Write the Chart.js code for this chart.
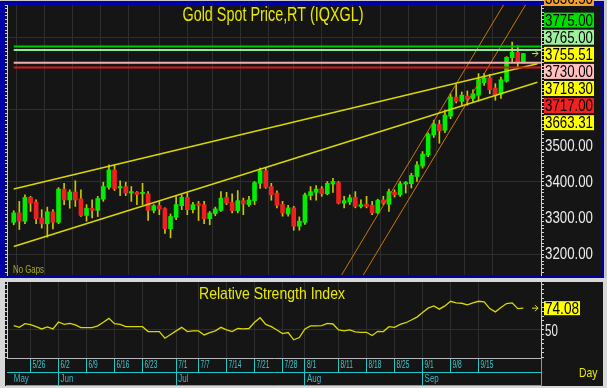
<!DOCTYPE html>
<html>
<head>
<meta charset="utf-8">
<script src="https://cdn.jsdelivr.net/npm/chart.js@4/dist/chart.umd.min.js"></script>
<style>
html, body { margin: 0; padding: 0; background: #c9c9c9; }
#wrap { position: relative; width: 607px; height: 388px; overflow: hidden; }
#price { position: absolute; left: 0; top: 0; }
#rsi { position: absolute; left: 0; top: 278px; }
</style>
</head>
<body>
<div id="wrap">
  <canvas id="price" width="607" height="278"></canvas>
  <canvas id="rsi" width="607" height="110"></canvas>
</div>
<script>
// trading days shown on the chart
var dates = ['5/21','5/22','5/23','5/26','5/27','5/28','5/29','5/30',
  '6/2','6/3','6/4','6/5','6/6','6/9','6/10','6/11','6/12','6/13','6/16','6/17','6/18','6/19','6/20',
  '6/23','6/24','6/25','6/26','6/27','6/30',
  '7/1','7/2','7/3','7/4','7/7','7/8','7/9','7/10','7/11','7/14','7/15','7/16','7/17','7/18',
  '7/21','7/22','7/23','7/24','7/25','7/28','7/29','7/30','7/31',
  '8/1','8/4','8/5','8/6','8/7','8/8','8/11','8/12','8/13','8/14','8/15','8/18','8/19','8/20','8/21','8/22',
  '8/25','8/26','8/27','8/28','8/29',
  '9/1','9/2','9/3','9/4','9/5','9/8','9/9','9/10','9/11','9/12','9/15','9/16','9/17','9/18','9/19',
  '9/22','9/23','9/24','9/25'];

var open = [3288,3314,3291,3357,3344,3300,3284,3317,3288,3380,
  3350,3372,3353,3307,3327,3321,3352,3385,3433,3383,
  3387,3369,3371,3367,3367,3321,3334,3326,3270,3302,
  3334,3357,3323,3337,3337,3298,3312,3321,3357,3343,
  3320,3348,3337,3348,3396,3431,3387,3369,3337,3311,
  3328,3277,3288,3362,3371,3381,3367,3394,3398,3341,
  3344,3357,3332,3338,3335,3314,3350,3338,3371,3364,
  3394,3395,3415,3444,3474,3530,3559,3543,3582,3635,
  3623,3638,3631,3640,3675,3688,3660,3643,3679,3744,
  3759,3732];
var high = [3320,3346,3364,3360,3350,3323,3330,3323,3384,3396,
  3378,3403,3378,3337,3350,3360,3399,3447,3447,3403,
  3399,3387,3373,3396,3373,3337,3346,3328,3311,3359,
  3364,3369,3343,3346,3346,3318,3330,3373,3371,3367,
  3376,3355,3360,3401,3438,3438,3396,3375,3346,3335,
  3332,3303,3369,3387,3390,3387,3401,3410,3401,3360,
  3364,3373,3350,3360,3346,3352,3360,3380,3378,3401,
  3401,3424,3456,3484,3536,3571,3571,3599,3644,3672,
  3649,3652,3655,3700,3701,3698,3672,3690,3747,3787,
  3777,3756];
var low = [3281,3268,3284,3318,3284,3272,3247,3270,3284,3337,
  3327,3332,3304,3291,3300,3304,3346,3380,3376,3362,
  3362,3346,3337,3337,3293,3314,3309,3257,3245,3295,
  3323,3309,3314,3293,3284,3281,3306,3318,3337,3314,
  3314,3309,3332,3337,3382,3382,3349,3328,3305,3305,
  3266,3266,3282,3350,3349,3360,3364,3371,3339,3328,
  3337,3328,3328,3328,3309,3312,3337,3318,3358,3360,
  3369,3383,3401,3438,3470,3523,3507,3536,3575,3619,
  3612,3612,3621,3624,3667,3644,3626,3631,3676,3732,
  3713,3729];
var close = [3314,3291,3357,3341,3298,3284,3317,3288,3380,3350,
  3372,3350,3307,3327,3321,3354,3387,3433,3381,3387,
  3369,3371,3365,3369,3321,3334,3325,3270,3304,3337,
  3357,3323,3337,3335,3298,3314,3325,3355,3341,3320,
  3348,3339,3350,3398,3431,3385,3364,3335,3314,3328,
  3277,3291,3364,3373,3380,3367,3396,3401,3341,3348,
  3356,3332,3337,3332,3314,3349,3341,3373,3364,3395,
  3398,3418,3447,3477,3532,3560,3541,3585,3635,3623,
  3640,3629,3644,3683,3688,3655,3640,3683,3745,3759,
  3732,3755.51];

var rsi = [54.7,52.9,56.9,55.8,53.6,51.1,53.3,51.1,58.8,56.2,
  57.3,55.5,52.6,52.6,52.6,54.5,58.5,62.8,57,56.2,
  53.6,53.6,53.6,53.6,48.2,48.2,48.2,40.9,45,49,
  52.9,48.2,48.9,48.9,44.5,47.1,49,52.9,50,48.2,
  51.6,51.1,51.6,58.5,63.5,56.2,53.6,50,46,47.1,
  39.1,41.6,51.1,54.4,54.4,54.7,57.3,56.6,50,48.9,
  50,47.8,47.4,47.4,43.8,48.5,48.2,53.6,52.9,56.2,
  58,61,64.2,69.3,74.1,76.6,73,76.6,81.7,79.9,
  79.5,77.7,79.9,81.7,81,73.6,70,74.8,79.2,79.9,
  73.5,74.08];

var weekTicks = ['5/26','6/2','6/9','6/16','6/23','7/1','7/7','7/14','7/21','7/28',
  '8/1','8/11','8/18','8/25','9/1','9/8','9/15'];
var monthStarts = ['5/21','6/2','7/1','8/1','9/1'];
var monthNames = ['May','Jun','Jul','Aug','Sep'];
var priceTicks = [3200, 3300, 3400, 3500];
var rsiTicks = [50];

var levels = [3775, 3765, 3730, 3717];
var trendUpper = [[0, 3380], [93.5, 3727]];
var trendLower = [[0, 3221], [93.5, 3676]];
var channelLeft = [[58, 3128], [88, 3904]];
var channelRight = [[62, 3131], [92, 3906]];
var sideLabels = ['3836.50','3775.00','3765.00','3755.51','3730.00','3718.30','3717.00','3663.31'];
var rsiLast = '74.08';

// styles
var levelColors = ['#00c800', '#8ee88e', '#f0b0b0', '#d81818'];
var sideColors = ['#f0a030', '#00dd00', '#a0f0a0', '#ffff00', '#ffc0c0', '#ffff00', '#ee2222', '#ffff00'];
var UP = '#00ee00', DOWN = '#f02020', WICK = '#c8c800';
var GRID = '#2e2e2e', CYAN = '#20c8c8';
var FONT = '"Liberation Sans", Arial, sans-serif';
var X_MIN = -1.2, X_MAX = 94.15;

var weekIdx = weekTicks.map(function (d) { return dates.indexOf(d); });
var monthIdx = monthStarts.map(function (d) { return dates.indexOf(d); });

function seg(p) { return [{ x: p[0][0], y: p[0][1] }, { x: p[1][0], y: p[1][1] }]; }
function lineSet(data, color, width) {
  return { type: 'line', data: data, borderColor: color, borderWidth: width, pointRadius: 0, fill: false, order: 0 };
}
// narrow text: squeeze to a share of the natural width
function narrowText(c, t, x, y, k) {
  c.fillText(t, x, y, c.measureText(t).width * k);
}

var datasets = [];
levels.forEach(function (v, k) {
  datasets.push(lineSet([{ x: 0, y: v }, { x: X_MAX, y: v }], levelColors[k], 2));
});
datasets.push(lineSet(seg(trendUpper), '#d8d800', 1.5));
datasets.push(lineSet(seg(trendLower), '#d8d800', 1.5));
datasets.push(lineSet(seg(channelLeft), '#c87800', 1));
datasets.push(lineSet(seg(channelRight), '#c87800', 1));
datasets.push({
  type: 'bar', order: 1, grouped: false, barThickness: 4, minBarLength: 1.5,
  data: dates.map(function (d, i) { return { x: i, y: [open[i], close[i]] }; }),
  backgroundColor: dates.map(function (d, i) { return close[i] >= open[i] ? UP : DOWN; })
});
datasets.push({
  type: 'bar', order: 2, grouped: false, barThickness: 1,
  data: dates.map(function (d, i) { return { x: i, y: [low[i], high[i]] }; }),
  backgroundColor: WICK
});

var framePrice = {
  id: 'framePrice',
  beforeDraw: function (chart) {
    var c = chart.ctx;
    c.save();
    c.fillStyle = '#c9c9c9'; c.fillRect(0, 0, 607, 278);
    c.fillStyle = '#0000a6'; c.fillRect(0, 1, 604, 277);
    c.fillStyle = '#151515'; c.fillRect(5, 5, 596, 270);
    c.restore();
  },
  afterDraw: function (chart) {
    var c = chart.ctx, ys = chart.scales.y;
    c.save();
    c.textBaseline = 'middle';
    c.textAlign = 'center';
    c.fillStyle = '#e8e800';
    c.font = '20px ' + FONT;
    c.fillText('Gold Spot Price,RT (IQXGL)', 273, 15, 181);
    c.textAlign = 'left';
    c.fillStyle = '#a8a820';
    c.font = '10px ' + FONT;
    c.fillText('No Gaps', 13, 270, 31);
    c.font = '16px ' + FONT;
    c.fillStyle = '#ececec';
    priceTicks.forEach(function (v) {
      c.fillText(v.toFixed(2), 545, ys.getPixelForValue(v) + 1, 48);
    });
    sideLabels.forEach(function (t, k) {
      var cy = -1.5 + k * 17.1 + (k > 0 ? 4.5 : 0);
      c.fillStyle = sideColors[k];
      c.fillRect(544, cy - 7.5, 50, 15);
      c.fillStyle = '#000';
      c.fillText(t, 545, cy + 1, 48);
    });
    // last price marker
    var yp = ys.getPixelForValue(close[close.length - 1]);
    c.strokeStyle = '#e8e800'; c.lineWidth = 1;
    c.beginPath();
    c.moveTo(532, yp); c.lineTo(538, yp);
    c.moveTo(535, yp - 3); c.lineTo(538, yp); c.lineTo(535, yp + 3);
    c.stroke();
    c.restore();
  }
};

new Chart(document.getElementById('price'), {
  type: 'bar',
  data: { datasets: datasets },
  options: {
    responsive: false, animation: false, events: [],
    layout: { padding: { top: 5, bottom: 3, left: 5, right: 0 } },
    plugins: { legend: { display: false }, tooltip: { enabled: false } },
    scales: {
      x: {
        type: 'linear', min: X_MIN, max: X_MAX, offset: false,
        afterBuildTicks: function (s) { s.ticks = weekIdx.map(function (v) { return { value: v }; }); },
        grid: { color: GRID, drawTicks: false },
        border: { display: false },
        ticks: { display: false },
        afterFit: function (s) { s.height = 0; }
      },
      y: {
        position: 'right', min: 3142, max: 3890,
        ticks: { stepSize: 10, autoSkip: false, includeBounds: false, display: false },
        grid: {
          color: function (ctx) { return ctx.tick && ctx.tick.value % 200 === 0 ? GRID : 'rgba(0,0,0,0)'; },
          tickColor: '#d0d0d0', tickLength: 3
        },
        border: { color: '#d0d0d0' },
        afterFit: function (s) { s.width = 66; }
      },
      y2: {
        position: 'left', min: 3142, max: 3890,
        ticks: { stepSize: 10, autoSkip: false, includeBounds: false, display: false },
        grid: { drawOnChartArea: false, tickColor: '#d0d0d0', tickLength: 2 },
        border: { color: '#d0d0d0' },
        afterFit: function (s) { s.width = 2; }
      }
    }
  },
  plugins: [framePrice]
});

var frameRsi = {
  id: 'frameRsi',
  beforeDraw: function (chart) {
    var c = chart.ctx;
    c.save();
    c.fillStyle = '#d8d8d8'; c.fillRect(0, 0, 607, 110);
    c.fillStyle = '#151515'; c.fillRect(5, 4, 598, 104);
    c.restore();
  },
  afterDraw: function (chart) {
    var c = chart.ctx, a = chart.chartArea, ys = chart.scales.y;
    var xs = chart.scales.x, xm = chart.scales.x2;
    c.save();
    c.textBaseline = 'middle';
    c.textAlign = 'center';
    c.fillStyle = '#e8e800';
    c.font = '17px ' + FONT;
    c.fillText('Relative Strength Index', 272, 16, 146);
    c.textAlign = 'left';
    c.fillStyle = '#ececec';
    c.font = '16px ' + FONT;
    rsiTicks.forEach(function (v) {
      narrowText(c, String(v), 545, ys.getPixelForValue(v) + 2, 0.72);
    });
    var yl = ys.getPixelForValue(rsi[rsi.length - 1]);
    c.fillStyle = '#ffff00';
    c.fillRect(544, yl - 7, 36, 14);
    c.fillStyle = '#000';
    c.fillText(rsiLast, 545, yl + 1, 34);
    c.strokeStyle = '#e8e800'; c.lineWidth = 1;
    c.beginPath();
    c.moveTo(532, yl); c.lineTo(538, yl);
    c.moveTo(535, yl - 3); c.lineTo(538, yl); c.lineTo(535, yl + 3);
    c.stroke();
    c.fillStyle = '#e8e800';
    c.font = '13px ' + FONT;
    narrowText(c, 'Day', 579, 95, 0.8);
    // date rows
    c.font = '10px ' + FONT;
    c.fillStyle = '#40c8d0';
    weekIdx.forEach(function (v, k) {
      narrowText(c, weekTicks[k], xs.getPixelForValue(v) + 2, xs.top + 7, 0.66);
    });
    c.fillStyle = '#38b8c8';
    monthIdx.forEach(function (v, k) {
      narrowText(c, monthNames[k], xm.getPixelForValue(v) + (k === 0 ? 0 : 2), xm.top + 7, 0.8);
    });
    c.strokeStyle = CYAN;
    c.beginPath();
    c.moveTo(6, 107.5); c.lineTo(a.right + 0.5, 107.5);
    c.moveTo(a.right + 0.5, a.bottom); c.lineTo(a.right + 0.5, 107.5);
    c.stroke();
    c.restore();
  }
};

new Chart(document.getElementById('rsi'), {
  type: 'line',
  data: {
    datasets: [{
      data: rsi.map(function (v, i) { return { x: i, y: v }; }),
      borderColor: '#d8d800', borderWidth: 1.3, pointRadius: 0, fill: false, tension: 0
    }]
  },
  options: {
    responsive: false, animation: false, events: [],
    layout: { padding: { top: 4, bottom: 2, left: 5, right: 0 } },
    plugins: { legend: { display: false }, tooltip: { enabled: false } },
    scales: {
      x: {
        type: 'linear', position: 'bottom', weight: 0, min: X_MIN, max: X_MAX, offset: false,
        afterBuildTicks: function (s) { s.ticks = weekIdx.map(function (v) { return { value: v }; }); },
        ticks: { display: false },
        grid: { color: GRID, tickColor: CYAN, tickLength: 14 },
        border: { color: '#b8b8b8' },
        afterFit: function (s) { s.height = 14; }
      },
      x2: {
        type: 'linear', position: 'bottom', weight: 1, min: X_MIN, max: X_MAX, offset: false,
        afterBuildTicks: function (s) { s.ticks = monthIdx.map(function (v) { return { value: v }; }); },
        ticks: { display: false },
        grid: {
          drawOnChartArea: false, tickLength: 13,
          tickColor: function (ctx) { return ctx.index === 0 ? 'rgba(0,0,0,0)' : CYAN; }
        },
        border: { color: CYAN },
        afterFit: function (s) { s.height = 14; }
      },
      y: {
        position: 'right', min: 19, max: 103,
        ticks: { stepSize: 5, autoSkip: false, includeBounds: false, display: false },
        grid: {
          color: function (ctx) { return ctx.tick && rsiTicks.indexOf(ctx.tick.value) >= 0 ? GRID : 'rgba(0,0,0,0)'; },
          tickColor: '#d0d0d0', tickLength: 3
        },
        border: { color: '#d0d0d0' },
        afterFit: function (s) { s.width = 66; }
      },
      y3: {
        position: 'left', min: 19, max: 103,
        ticks: { stepSize: 5, autoSkip: false, includeBounds: false, display: false },
        grid: { drawOnChartArea: false, tickColor: '#d0d0d0', tickLength: 2 },
        border: { color: '#d0d0d0' },
        afterFit: function (s) { s.width = 2; }
      }
    }
  },
  plugins: [frameRsi]
});
</script>
</body>
</html>
